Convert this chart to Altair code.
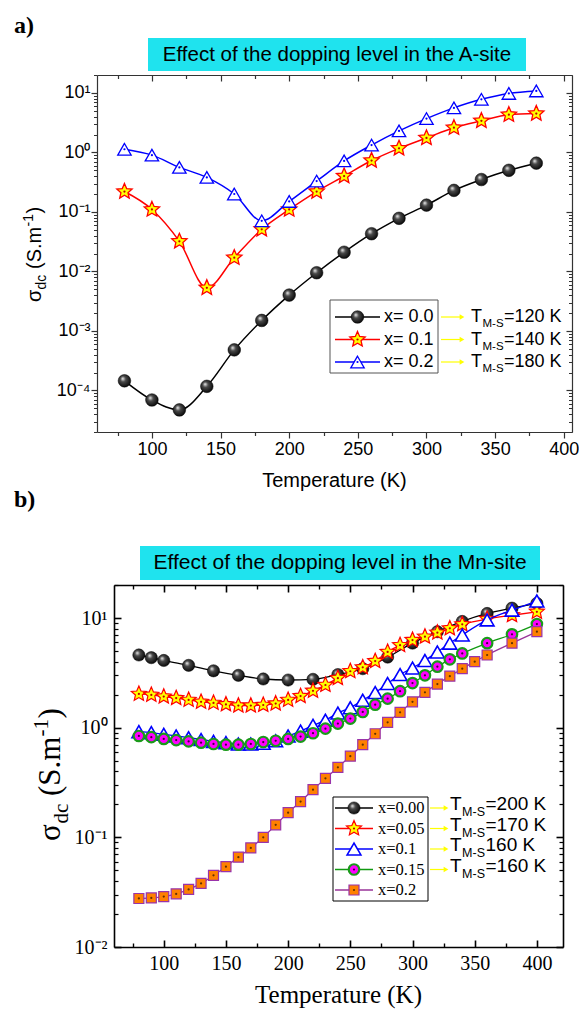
import math
import altair as alt
import pandas as pd

# ---------------- data ----------------
# panel a) doping in the A-site
A_T = [80, 100, 120, 140, 160, 180, 200, 220, 240, 260, 280, 300, 320, 340, 360, 380]
A_NAMES = ["x= 0.0", "x= 0.1", "x= 0.2"]
A_X00 = [1.45e-4, 6.9e-5, 4.7e-5, 1.17e-4, 4.8e-4, 1.5e-3, 4.0e-3, 9.5e-3, 2.1e-2, 4.3e-2,
         7.8e-2, 0.13, 0.23, 0.35, 0.50, 0.66]
A_X01 = [0.22, 0.11, 0.032, 5.3e-3, 0.017, 0.051, 0.11, 0.22, 0.40, 0.73,
         1.17, 1.75, 2.6, 3.4, 4.3, 4.5]
A_X02 = [1.13, 0.90, 0.56, 0.38, 0.20, 0.071, 0.15, 0.33, 0.72, 1.33,
         2.3, 3.7, 5.6, 7.8, 9.8, 10.8]
A_TMS = ["=120 K", "=140 K", "=180 K"]
A_TITLE = "Effect of the dopping level in the A-site"

# panel b) doping in the Mn-site
B_NAMES = ["x=0.00", "x=0.05", "x=0.1", "x=0.15", "x=0.2"]
B_T0 = [80, 90, 100, 120, 140, 160, 180, 200, 220, 240, 260, 280, 300, 320, 340, 360, 380, 400]
B_X000 = [4.6, 4.35, 4.1, 3.7, 3.3, 3.0, 2.78, 2.72, 2.76, 3.05, 3.45, 4.4, 5.9, 7.5, 9.3,
          11.0, 12.3, 13.6]
B_T1 = [80, 90, 100, 110, 120, 130, 140, 150, 160, 170, 180, 190, 200, 210, 220, 230, 240,
        250, 260, 270, 280, 290, 300, 310, 320, 330, 340, 360, 380, 400]
B_X005 = [2.03, 1.99, 1.92, 1.86, 1.79, 1.72, 1.68, 1.63, 1.59, 1.59, 1.61, 1.66, 1.79, 1.94,
          2.17, 2.45, 2.83, 3.27, 3.55, 4.05, 4.9, 5.65, 6.3, 6.75, 7.35, 8.05, 8.75, 9.8,
          10.6, 11.4]
B_X01 = [0.92, 0.90, 0.87, 0.84, 0.81, 0.78, 0.75, 0.73, 0.71, 0.71, 0.72, 0.76, 0.84, 0.93,
         1.05, 1.17, 1.36, 1.52, 1.78, 2.09, 2.53, 3.05, 3.5, 4.1, 4.9, 5.9, 7.0, 9.6, 11.8,
         14.3]
B_X015 = [0.84, 0.82, 0.79, 0.77, 0.75, 0.73, 0.71, 0.70, 0.70, 0.71, 0.74, 0.76, 0.79, 0.83,
          0.89, 0.98, 1.09, 1.21, 1.39, 1.62, 1.84, 2.15, 2.55, 3.0, 3.6, 4.2, 4.75, 5.9, 7.1,
          8.8]
B_T2 = [80, 90, 100, 110, 120, 130, 140, 150, 160, 170, 180, 190, 200, 210, 220, 230, 240,
        250, 260, 270, 280, 290, 300, 310, 320, 330, 340, 350, 360, 380, 400]
B_X02 = [0.0277, 0.028, 0.0288, 0.0305, 0.0335, 0.038, 0.045, 0.054, 0.066, 0.080, 0.100,
         0.130, 0.168, 0.212, 0.272, 0.345, 0.435, 0.55, 0.70, 0.88, 1.12, 1.38, 1.72, 2.1,
         2.5, 2.95, 3.45, 4.0, 4.6, 5.9, 7.5]
B_TMS = ["=200 K", "=170 K", "160 K", "=160 K"]
B_TITLE = "Effect of the dopping level in the Mn-site"

X_MAJOR = [100, 150, 200, 250, 300, 350, 400]
X_MINOR = [75, 125, 175, 225, 275, 325, 375]
X_TITLE = "Temperature (K)"


def long_df(names, tlists, vlists):
    rows = []
    for n, ts, vs in zip(names, tlists, vlists):
        for t, v in zip(ts, vs):
            rows.append({"s": n, "T": t, "v": v})
    return pd.DataFrame(rows)


DF_A = long_df(A_NAMES, [A_T, A_T, A_T], [A_X00, A_X01, A_X02])
DF_B = long_df(B_NAMES, [B_T0, B_T1, B_T1, B_T1, B_T2], [B_X000, B_X005, B_X01, B_X015, B_X02])
ONE = pd.DataFrame({"k": [0]})

# ---------------- layout / styles ----------------
W, H = 579, 1009
A_L, A_R, A_TOP, A_BOT = 97, 572, 75, 432
B_L, B_R, B_TOP, B_BOT = 114, 563, 585, 947
SANS = "Liberation Sans"
SERIF = "Liberation Serif"
CYAN = "#1fe3ee"
YEL = "#ffff00"

XA = alt.Scale(domain=[60, 406], range=[A_L, A_R], nice=False, zero=False)
YA = alt.Scale(type="log", domain=[2e-5, 20], range=[A_BOT, A_TOP], nice=False)
XB = alt.Scale(domain=[60, 421], range=[B_L, B_R], nice=False, zero=False)
YB = alt.Scale(type="log", domain=[0.01, 20], range=[B_BOT, B_TOP], nice=False)


def star_path(inner=0.46):
    pts = []
    for k in range(10):
        ang = math.radians(-90 + 36 * k)
        r = 1.0 if k % 2 == 0 else inner
        pts.append(f"{r * math.cos(ang):.3f},{r * math.sin(ang):.3f}")
    return "M" + "L".join(pts) + "Z"


STAR = star_path()
BALL = {"gradient": "radial",
        "stops": [{"offset": 0, "color": "#f2f2f2"}, {"offset": 0.35, "color": "#4a4a4a"},
                  {"offset": 1, "color": "#000000"}],
        "x1": 0.36, "y1": 0.32, "r1": 0.0, "x2": 0.45, "y2": 0.45, "r2": 0.62}

A_STYLE = {
    "x= 0.0": dict(line="#000000", shape="circle", fill=BALL, stroke="#000000", sw=0.5, size=160, dot=None, lw=1.5),
    "x= 0.1": dict(line="#ff0000", shape=STAR, fill="#ffff00", stroke="#ff0000", sw=1.3, size=260, dot="#c00000", lw=1.5),
    "x= 0.2": dict(line="#0000ff", shape="triangle-up", fill="#ffffff", stroke="#0000ff", sw=1.3, size=180, dot="#0000ff", lw=1.5),
}
B_STYLE = {
    "x=0.00": dict(line="#000000", shape="circle", fill=BALL, stroke="#000000", sw=0.5, size=150, dot=None, lw=1.3),
    "x=0.05": dict(line="#ff0000", shape=STAR, fill="#ffff00", stroke="#ff0000", sw=1.2, size=250, dot="#c00000", lw=1.3),
    "x=0.1": dict(line="#0000ff", shape="triangle-up", fill="#ffffff", stroke="#0000ff", sw=1.6, size=190, dot=None, lw=1.3),
    "x=0.15": dict(line="#119911", shape="circle", fill="#ff00ff", stroke="#1a9a1a", sw=2.2, size=110, dot="#3a003a", lw=1.3),
    "x=0.2": dict(line="#993399", shape="square", fill="#ff8000", stroke="#9933aa", sw=1.2, size=100, dot="#603000", lw=1.3),
}

SUP = {-5: "⁻⁵", -4: "⁻⁴", -3: "⁻³", -2: "⁻²", -1: "⁻¹", 0: "⁰", 1: "¹"}
LOG_L = "round(log(datum.value)/LN10)"


def log_label_expr(exps):
    expr = "''"
    for e in exps:
        expr = f"({LOG_L} == {e} ? '10{SUP[e]}' : {expr})"
    return expr


def log_ticks(lo, hi, major):
    out = []
    for e in range(-6, 3):
        for m in range(1, 10):
            if (m == 1) != major:
                continue
            v = float(f"{m}e{e}")
            if lo * 0.999 <= v <= hi * 1.001:
                out.append(v)
    return out


def axis(orient, offset, values, color, width, tick=None, domain=False,
         label_expr=None, font=None, fsize=None, lpad=0):
    kw = dict(orient=orient, offset=offset, values=values, grid=False, title=None,
              domain=domain, domainColor=color, domainWidth=width,
              ticks=tick is not None, tickColor=color, tickWidth=width,
              labels=label_expr is not None)
    if tick is not None:
        kw["tickSize"] = tick
    if label_expr is not None:
        kw.update(labelExpr=label_expr, labelFont=font, labelFontSize=fsize,
                  labelPadding=lpad, labelColor="#000", labelFlush=False,
                  labelOverlap=False)
    return alt.Axis(**kw)


def carrier(df, xs, ys, ax_x, ax_y):
    return alt.Chart(df).mark_point(opacity=0, size=1).encode(
        x=alt.X("T:Q", scale=xs, axis=ax_x), y=alt.Y("v:Q", scale=ys, axis=ax_y))


def txt(s, x, y, size, font, align="left", baseline="alphabetic", angle=0,
        weight="normal", color="#000"):
    kw = dict(text=s, fontSize=size, font=font, align=align, baseline=baseline,
              fontWeight=weight, color=color)
    if angle:
        kw["angle"] = angle
    return alt.Chart(ONE).mark_text(**kw).encode(x=alt.value(x), y=alt.value(y))


def rect(x1, x2, y1, y2, fill, stroke=None, sw=1):
    kw = dict(fill=fill)
    if stroke:
        kw.update(stroke=stroke, strokeWidth=sw)
    return alt.Chart(ONE).mark_rect(**kw).encode(
        x=alt.value(x1), x2=alt.value(x2), y=alt.value(y1), y2=alt.value(y2))


def hrule(x1, x2, y, color, sw):
    return alt.Chart(ONE).mark_rule(color=color, strokeWidth=sw).encode(
        x=alt.value(x1), x2=alt.value(x2), y=alt.value(y))


def symbol(st, x=None, y=None, data=None, enc=None):
    mk = dict(shape=st["shape"], filled=True, fill=st["fill"], stroke=st["stroke"],
              strokeWidth=st["sw"], size=st["size"], opacity=1)
    dk = dict(shape="circle", filled=True, color=st["dot"], size=5, opacity=1)
    out = []
    if enc is None:
        enc = dict(x=alt.value(x), y=alt.value(y))
        data = alt.Chart(ONE)
    out.append(data.mark_point(**mk).encode(**enc))
    if st["dot"]:
        out.append(data.mark_point(**dk).encode(**enc))
    return out


def series(df, name, st, xs, ys):
    base = alt.Chart(df).transform_filter(alt.datum.s == name)
    enc = dict(x=alt.X("T:Q", scale=xs, axis=None), y=alt.Y("v:Q", scale=ys, axis=None))
    line = base.mark_line(interpolate="monotone", color=st["line"], strokeWidth=st["lw"]).encode(**enc)
    return [line] + symbol(st, data=base, enc=enc)


def arrow(x1, x2, y):
    return [hrule(x1, x2, y, YEL, 1.2),
            alt.Chart(ONE).mark_point(shape="triangle-right", filled=True, color=YEL, size=30,
                                      opacity=1).encode(x=alt.value(x2), y=alt.value(y))]


def tms(x, y, rest, F, f, dsub):
    tw = 0.611 * F
    sw = 1.833 * f
    return [txt("T", x, y, F, SANS), txt("M-S", x + tw + 0.5, y + dsub, f, SANS),
            txt(rest, x + tw + sw + 1, y, F, SANS)]


layers = []

# ======================= panel a =======================
FA = "#333333"
YA_MAJ = log_ticks(2e-5, 20, True)
YA_MIN = log_ticks(2e-5, 20, False)
axes_a = [
    (axis("bottom", A_BOT - H, X_MAJOR, FA, 1.2, tick=6, domain=True,
          label_expr="datum.label", font=SANS, fsize=18, lpad=2),
     axis("left", -A_L, YA_MAJ, FA, 1.2, tick=6, domain=True,
          label_expr=log_label_expr([-4, -3, -2, -1, 0, 1]), font=SANS, fsize=18, lpad=1)),
    (axis("bottom", A_BOT - H, X_MINOR, FA, 1.2, tick=3.5),
     axis("left", -A_L, YA_MIN, FA, 1.0, tick=3.5)),
    (axis("bottom", A_TOP - H, X_MAJOR, FA, 1.2, tick=6, domain=True),
     axis("left", -A_R, YA_MAJ, FA, 1.2, tick=6, domain=True)),
    (axis("bottom", A_TOP - H, X_MINOR, FA, 1.2, tick=3.5),
     axis("left", -A_R, YA_MIN, FA, 1.0, tick=3.5)),
]
for axx, axy in axes_a:
    layers.append(carrier(DF_A, XA, YA, axx, axy))

layers.append(rect(148, 526, 38, 71, CYAN))
layers.append(txt(A_TITLE, 337, 55, 20.5, SANS, align="center", baseline="middle"))
layers.append(txt("a)", 14, 33, 24, SERIF, weight="bold"))

for n in A_NAMES:
    layers += series(DF_A, n, A_STYLE[n], XA, YA)

# legend a
layers.append(rect(330, 438, 300, 373, "#ffffff", "#555555", 1))
for i, n in enumerate(A_NAMES):
    y = 317 + 22.5 * i
    st = A_STYLE[n]
    layers.append(hrule(335, 380, y, st["line"], st["lw"]))
    layers += symbol(st, 357.5, y)
    layers.append(txt(n, 384, y, 18, SANS, baseline="middle"))
    layers += arrow(441, 462, y)
    layers += tms(471, y + 5, A_TMS[i], 18, 11.5, 5)

layers.append(txt(X_TITLE, (A_L + A_R) / 2, 481, 20, SANS, align="center", baseline="middle"))
# rotated y title  sigma_dc (S.m^-1)
y0, xb = 302, 41
layers += [txt("σ", xb, y0, 20, SANS, angle=270),
           txt("dc", xb + 5, y0 - 12.5, 14, SANS, angle=270),
           txt("(S.m", xb, y0 - 33, 20, SANS, angle=270),
           txt("-1", xb - 8, y0 - 75.5, 14, SANS, angle=270),
           txt(")", xb, y0 - 88.5, 20, SANS, angle=270)]

# ======================= panel b =======================
FB = "#000000"
YB_MAJ = log_ticks(0.01, 20, True)
YB_MIN = log_ticks(0.01, 20, False)
axes_b = [
    (axis("bottom", B_BOT - H, X_MAJOR, FB, 1.6, domain=False,
          label_expr="datum.label", font=SERIF, fsize=20, lpad=6),
     axis("left", -B_L, YB_MAJ, FB, 1.6, domain=False,
          label_expr=log_label_expr([-2, -1, 0, 1]), font=SERIF, fsize=20, lpad=7)),
    (axis("top", -B_BOT, X_MAJOR, FB, 1.6, tick=7, domain=True),
     axis("right", B_L - W, YB_MAJ, FB, 1.6, tick=7, domain=True)),
    (axis("top", -B_BOT, X_MINOR, FB, 1.4, tick=4),
     axis("right", B_L - W, YB_MIN, FB, 1.2, tick=4)),
    (axis("bottom", B_TOP - H, X_MAJOR, FB, 1.6, tick=7, domain=True),
     axis("left", -B_R, YB_MAJ, FB, 1.6, tick=7, domain=True)),
    (axis("bottom", B_TOP - H, X_MINOR, FB, 1.4, tick=4),
     axis("left", -B_R, YB_MIN, FB, 1.2, tick=4)),
]
for axx, axy in axes_b:
    layers.append(carrier(DF_B, XB, YB, axx, axy))

layers.append(rect(140, 540, 546, 580, CYAN))
layers.append(txt(B_TITLE, 340, 563, 21, SANS, align="center", baseline="middle"))
layers.append(txt("b)", 14, 507, 24, SERIF, weight="bold"))

for n in B_NAMES:
    layers += series(DF_B, n, B_STYLE[n], XB, YB)

# legend b
layers.append(rect(333, 428, 797, 901, "#ffffff", "#000000", 1))
for i, n in enumerate(B_NAMES):
    y = 808 + 20.5 * i
    st = B_STYLE[n]
    layers.append(hrule(335, 373, y, st["line"], st["lw"]))
    layers += symbol(st, 354, y)
    layers.append(txt(n, 378, y, 16.5, SERIF, baseline="middle"))
    if i < len(B_TMS):
        layers += arrow(430, 446, y)
        layers += tms(450, y + 2, B_TMS[i], 19, 12.5, 6)

layers.append(txt(X_TITLE, (B_L + B_R) / 2, 995, 25, SERIF, align="center", baseline="middle"))
y0, xb = 841, 60
layers += [txt("σ", xb, y0, 31, SERIF, angle=270),
           txt("dc", xb + 8, y0 - 17.5, 21, SERIF, angle=270),
           txt("(S.m", xb, y0 - 45, 31, SERIF, angle=270),
           txt("-1", xb - 12, y0 - 104.5, 21, SERIF, angle=270),
           txt(")", xb, y0 - 122.5, 31, SERIF, angle=270)]

chart = (alt.layer(*layers)
         .resolve_scale(x="independent", y="independent")
         .resolve_axis(x="independent", y="independent")
         .properties(width=W, height=H, autosize=alt.AutoSizeParams(type="none"), padding=0)
         .configure_view(stroke=None))

chart.save("out.html", embed_options={"renderer": "svg", "actions": False})
